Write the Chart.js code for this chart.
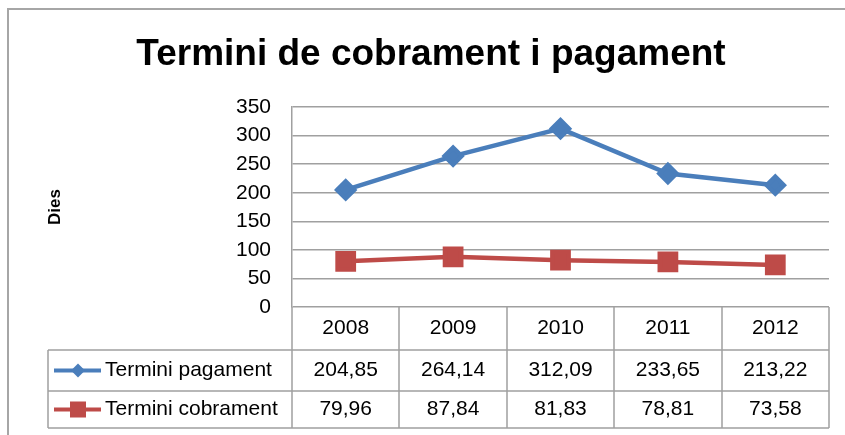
<!DOCTYPE html>
<html>
<head>
<meta charset="utf-8">
<script src="https://cdn.jsdelivr.net/npm/chart.js@4/dist/chart.umd.min.js"></script>
<style>
  html, body { margin: 0; padding: 0; background: #fff; }
  #wrap { width: 845px; height: 435px; }
</style>
</head>
<body>
<div id="wrap"><canvas id="chart" width="845" height="435"></canvas></div>
<script>
// chart data
const years = ['2008', '2009', '2010', '2011', '2012'];
const pagament = [204.85, 264.14, 312.09, 233.65, 213.22];
const cobrament = [79.96, 87.84, 81.83, 78.81, 73.58];
const seriesNames = ['Termini pagament', 'Termini cobrament'];
const yTicks = [0, 50, 100, 150, 200, 250, 300, 350];
const chartTitle = 'Termini de cobrament i pagament';

const blue = '#4a7ebb';
const red = '#be4b48';
const gridGray = '#a0a0a0';
const font = '"Liberation Sans", Arial, sans-serif';

// format numbers like the spreadsheet (comma decimals)
function fmt(v) {
    return v.toFixed(2).replace('.', ',');
}

// small marker used in the table legend cells
function drawKey(ctx, x, y, color, shape) {
    ctx.save();
    ctx.strokeStyle = color;
    ctx.fillStyle = color;
    ctx.lineWidth = 4;
    ctx.beginPath();
    ctx.moveTo(x - 24, y);
    ctx.lineTo(x + 23, y);
    ctx.stroke();
    if (shape === 'diamond') {
        ctx.beginPath();
        ctx.moveTo(x, y - 7);
        ctx.lineTo(x + 7, y);
        ctx.lineTo(x, y + 7);
        ctx.lineTo(x - 7, y);
        ctx.closePath();
        ctx.fill();
    } else {
        ctx.fillRect(x - 8, y - 8, 16, 16);
    }
    ctx.restore();
}

// background, outer frame and title (title is centred on the whole frame)
const framePlugin = {
    id: 'frame',
    beforeDraw(chart) {
        const ctx = chart.ctx;
        ctx.save();
        ctx.fillStyle = '#fff';
        ctx.fillRect(0, 0, chart.width, chart.height);
        ctx.strokeStyle = '#a6a6a6';
        ctx.lineWidth = 2;
        ctx.strokeRect(8, 9, chart.width + 20, chart.height + 20);
        ctx.fillStyle = '#000';
        ctx.font = 'bold 37px ' + font;
        ctx.textAlign = 'center';
        ctx.textBaseline = 'middle';
        ctx.fillText(chartTitle, 431, 55);
        ctx.restore();
    }
};

// data table under the plot, like Excel's "data table with legend keys"
const tablePlugin = {
    id: 'dataTable',
    afterDraw(chart) {
        const ctx = chart.ctx;
        const area = chart.chartArea;
        const x = chart.scales.x;
        const step = x.getPixelForValue(1) - x.getPixelForValue(0);
        const rowLines = [area.bottom, area.bottom + 43, area.bottom + 84, area.bottom + 121];
        const legendLeft = 48;

        ctx.save();
        ctx.strokeStyle = gridGray;
        ctx.lineWidth = 1.5;
        ctx.beginPath();
        // column lines
        for (let i = 0; i <= years.length; i++) {
            const cx = Math.round(x.getPixelForValue(0) - step / 2 + i * step);
            ctx.moveTo(cx, rowLines[0]);
            ctx.lineTo(cx, rowLines[3]);
        }
        ctx.moveTo(legendLeft, rowLines[1]);
        ctx.lineTo(legendLeft, rowLines[3]);
        // row lines
        for (let r = 1; r < rowLines.length; r++) {
            ctx.moveTo(legendLeft, rowLines[r]);
            ctx.lineTo(area.right, rowLines[r]);
        }
        ctx.stroke();

        ctx.fillStyle = '#000';
        ctx.font = '21px ' + font;
        ctx.textAlign = 'center';
        ctx.textBaseline = 'middle';
        const headerY = (rowLines[0] + rowLines[1]) / 2;
        const row1Y = (rowLines[1] + rowLines[2]) / 2;
        const row2Y = (rowLines[2] + rowLines[3]) / 2;
        years.forEach((yr, i) => {
            const cx = x.getPixelForValue(i);
            ctx.fillText(yr, cx, headerY);
            ctx.fillText(fmt(pagament[i]), cx, row1Y);
            ctx.fillText(fmt(cobrament[i]), cx, row2Y);
        });

        drawKey(ctx, 78, row1Y, blue, 'diamond');
        drawKey(ctx, 78, row2Y, red, 'square');
        ctx.fillStyle = '#000';
        ctx.textAlign = 'left';
        ctx.fillText(seriesNames[0], 105, row1Y);
        ctx.fillText(seriesNames[1], 105, row2Y);
        ctx.restore();
    }
};

const ctx = document.getElementById('chart').getContext('2d');
new Chart(ctx, {
    type: 'line',
    data: {
        labels: years,
        datasets: [{
            label: seriesNames[0],
            data: pagament,
            borderColor: blue,
            backgroundColor: blue,
            borderWidth: 4.5,
            pointStyle: 'rectRot',
            pointRadius: 8.5,
            pointHoverRadius: 8.5,
            tension: 0
        }, {
            label: seriesNames[1],
            data: cobrament,
            borderColor: red,
            backgroundColor: red,
            borderWidth: 4.5,
            pointStyle: 'rect',
            pointRadius: 11.5,
            pointHoverRadius: 11.5,
            tension: 0
        }]
    },
    options: {
        responsive: false,
        animation: false,
        layout: {
            padding: { top: 107, left: 0, right: 16, bottom: 128 }
        },
        plugins: {
            legend: { display: false },
            tooltip: { enabled: false },
            title: { display: false }
        },
        scales: {
            x: {
                display: false,
                offset: true
            },
            y: {
                min: 0,
                max: 350,
                afterBuildTicks(scale) {
                    scale.ticks = yTicks.map(v => ({ value: v }));
                },
                afterFit(scale) {
                    scale.width = 292;
                },
                grid: {
                    color: gridGray,
                    lineWidth: 1.5,
                    drawTicks: false
                },
                border: { display: true, color: gridGray, width: 1.5 },
                ticks: {
                    color: '#000',
                    padding: 21,
                    font: { family: font, size: 21 }
                },
                title: {
                    display: true,
                    text: 'Dies',
                    color: '#000',
                    font: { family: font, size: 17, weight: 'bold' },
                    padding: { top: 45, bottom: 0 }
                }
            }
        }
    },
    plugins: [framePlugin, tablePlugin]
});
</script>
</body>
</html>
